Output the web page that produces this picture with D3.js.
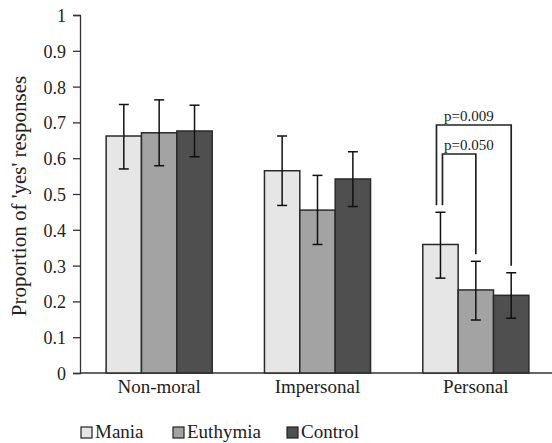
<!DOCTYPE html>
<html>
<head>
<meta charset="utf-8">
<script src="https://cdn.jsdelivr.net/npm/d3@7"></script>
<style>
body { margin: 0; background: #fff; }
</style>
</head>
<body>
<svg id="chart" width="552" height="443"></svg>
<script>
var categories = ['Non-moral', 'Impersonal', 'Personal']
var groups = ['Mania', 'Euthymia', 'Control']
var colors = ['#e6e6e6', '#a3a3a3', '#4f4f4f']
var means = [
	[0.662, 0.671, 0.676],
	[0.565, 0.455, 0.542],
	[0.359, 0.232, 0.217]
]
var errHi = [
	[0.750, 0.763, 0.748],
	[0.662, 0.552, 0.618],
	[0.449, 0.312, 0.280]
]
var errLo = [
	[0.570, 0.579, 0.604],
	[0.468, 0.359, 0.465],
	[0.265, 0.148, 0.153]
]
var yTicks = [0, 0.1, 0.2, 0.3, 0.4, 0.5, 0.6, 0.7, 0.8, 0.9, 1]
// significance brackets in the Personal group: [from, to, label]
var brackets = [
	['Mania', 'Control', 'p=0.009'],
	['Mania', 'Euthymia', 'p=0.050']
]

var FONT = '"Liberation Serif", "Times New Roman", Times, serif'
var svg = d3.select('#chart')
var x0 = d3.scaleBand().domain(categories).range([80, 555])
	.paddingInner(0.33).paddingOuter(0.165)
var x1 = d3.scaleBand().domain(groups).range([0, x0.bandwidth()])
var y = d3.scaleLinear().domain([0, 1]).range([373, 15])

// y axis
var yAxis = svg.append('g').attr('transform', 'translate(80,0)')
	.call(d3.axisLeft(y).tickValues(yTicks).tickFormat(d => d === 0 || d === 1 ? d : d3.format('.1f')(d))
		.tickSizeOuter(0).tickSize(7).tickPadding(7))
yAxis.attr('font-family', null).attr('font-size', null)
yAxis.select('.domain').attr('stroke', '#333').attr('stroke-width', 1.3)
yAxis.selectAll('.tick line').attr('stroke', '#333').attr('stroke-width', 1.3)
yAxis.selectAll('text').attr('class', 'tick-label').attr('dy', '0.36em')

// x axis line
svg.append('line').attr('x1', 80).attr('x2', 552).attr('y1', y(0)).attr('y2', y(0))
	.attr('stroke', '#333').attr('stroke-width', 1.3)

svg.append('text').attr('class', 'ylabel')
	.attr('transform', 'translate(26,196) rotate(-90)')
	.attr('text-anchor', 'middle')
	.text("Proportion of 'yes' responses")

// bars
categories.forEach(function(c, ci) {
	var g = svg.append('g').attr('transform', 'translate(' + x0(c) + ',0)')
	groups.forEach(function(gr, gi) {
		g.append('rect')
			.attr('x', x1(gr)).attr('width', x1.bandwidth())
			.attr('y', y(means[ci][gi])).attr('height', y(0) - y(means[ci][gi]))
			.attr('fill', colors[gi]).attr('stroke', '#2a2a2a').attr('stroke-width', 1.5)
		var cx = x1(gr) + x1.bandwidth() / 2
		g.append('line').attr('x1', cx).attr('x2', cx)
			.attr('y1', y(errHi[ci][gi])).attr('y2', y(errLo[ci][gi]))
			.attr('stroke', '#111').attr('stroke-width', 1.5)
		;[errHi[ci][gi], errLo[ci][gi]].forEach(function(v) {
			g.append('line').attr('x1', cx - 5).attr('x2', cx + 5)
				.attr('y1', y(v)).attr('y2', y(v))
				.attr('stroke', '#111').attr('stroke-width', 1.5)
		})
	})
	svg.append('text').attr('class', 'cat').attr('x', x0(c) + x0.bandwidth() / 2).attr('y', 393)
		.attr('text-anchor', 'middle').text(c)
})

// brackets
var pc = 'Personal', pi = categories.indexOf(pc)
var bTop = [125, 154]
var leftOff = [-4, 2]
brackets.forEach(function(b, bi) {
	var ia = groups.indexOf(b[0]), ib = groups.indexOf(b[1])
	var xa = x0(pc) + x1(b[0]) + x1.bandwidth() / 2 + leftOff[bi]
	var xb = x0(pc) + x1(b[1]) + x1.bandwidth() / 2
	var ya = y(errHi[pi][ia]) - 7
	var yb = y(errHi[pi][ib]) - 7
	svg.append('path')
		.attr('d', 'M' + xa + ',' + ya + 'V' + bTop[bi] + 'H' + xb + 'V' + yb)
		.attr('fill', 'none').attr('stroke', '#222').attr('stroke-width', 1.7)
	svg.append('text').attr('class', 'ptext').attr('x', 444).attr('y', bTop[bi] - 4)
		.text(b[2])
})

// legend
var lx = [81, 173, 287]
groups.forEach(function(gr, gi) {
	svg.append('rect').attr('x', lx[gi]).attr('y', 427).attr('width', 11).attr('height', 11)
		.attr('fill', colors[gi]).attr('stroke', '#222').attr('stroke-width', 1.2)
	svg.append('text').attr('class', 'leg').attr('x', lx[gi] + 14).attr('y', 438)
		.text(gr)
})

svg.selectAll('text').style('font-family', FONT).attr('fill', '#222')
svg.selectAll('text.tick-label').style('font-size', '18px')
svg.selectAll('text.cat').style('font-size', '19px')
svg.selectAll('text.leg').style('font-size', '19px')
svg.selectAll('text.ylabel').style('font-size', '21px')
svg.selectAll('text.ptext').style('font-size', '15px')
</script>
</body>
</html>
